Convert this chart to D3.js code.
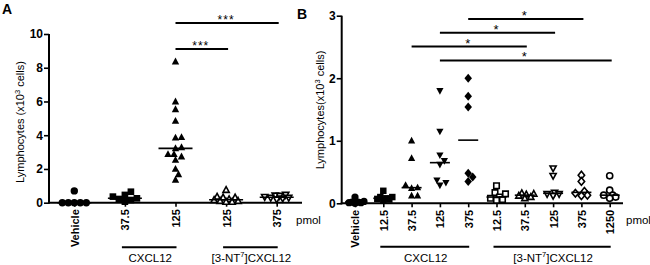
<!DOCTYPE html>
<html>
<head>
<meta charset="utf-8">
<script src="https://cdnjs.cloudflare.com/ajax/libs/d3/7.8.5/d3.min.js"></script>
<style>
body { margin: 0; background: #fff; }
svg { font-family: "Liberation Sans", Arial, sans-serif; }
</style>
</head>
<body>
<div id="chart"></div>
<script>
// ---- panel A data ----
var keysA = ["veh", "c37.5", "c125", "n125", "n375"];
var catsA = ["Vehicle", "37.5", "125", "125", "375"];
var vehicleA = [0.7, 0, 0, 0, 0, 0];
var cxcl37A = [0.65, 0.46, 0.36, 0.26, 0.22, 0.16, 0.06];
var cxcl125A = [8.36, 5.99, 5.53, 4.84, 3.88, 3.85, 3.28, 3.22, 2.87, 2.87, 2.73, 2.53, 2.0, 1.68, 1.35];
var nt125A = [0.75, 0.35, 0.3, 0.3, 0.2, 0.15, 0.1, 0.1, 0.05, 0.05];
var nt375A = [0.47, 0.43, 0.41, 0.35, 0.3, 0.3, 0.25, 0.2];
var ticksA = [0, 2, 4, 6, 8, 10];
var sigA = [["c125", "n375", "***"], ["c125", "n125", "***"]];
var groupsA = [["c37.5", "c125", "CXCL12"], ["n125", "n375", "NT"]];

// ---- panel B data ----
var keysB = ["veh", "c12.5", "c37.5", "c125", "c375", "n12.5", "n37.5", "n125", "n375", "n1250"];
var catsB = ["Vehicle", "12.5", "37.5", "125", "375", "12.5", "37.5", "125", "375", "1250"];
var vehicleB = [0.1, 0.03, 0.02, 0.02, 0.01, 0.01, 0];
var cxcl12B = [0.2, 0.1, 0.1, 0.08, 0.07, 0.06, 0.05];
var cxcl37B = [1.0, 0.72, 0.29, 0.25, 0.24, 0.12, 0.12];
var cxcl125B = [1.8, 1.15, 0.77, 0.68, 0.62, 0.37, 0.33, 0.29];
var cxcl375B = [2.0, 1.71, 1.54, 0.48, 0.42, 0.35];
var nt12B = [0.28, 0.17, 0.15, 0.1, 0.08, 0.06, 0.05];
var nt37B = [0.16, 0.15, 0.14, 0.12, 0.1, 0.08];
var nt125B = [0.56, 0.44, 0.17, 0.15, 0.15, 0.12];
var nt375B = [0.45, 0.35, 0.19, 0.16, 0.13, 0.12];
var nt1250B = [0.44, 0.21, 0.13, 0.13, 0.1, 0.08];
var ticksB = [0, 1, 2, 3];
var sigB = [["c375", "n375", "*"], ["c125", "n125", "*"], ["c37.5", "n37.5", "*"], ["c125", "n1250", "*"]];
var groupsB = [["c12.5", "c375", "CXCL12"], ["n12.5", "n1250", "NT"]];

function shapePath(type, r) {
    switch (type) {
        case "circle":
            return "M" + r + ",0A" + r + "," + r + " 0 1,1 " + (-r) + ",0A" + r + "," + r + " 0 1,1 " + r + ",0Z";
        case "square":
            var s = r * 0.9;
            return "M" + (-s) + "," + (-s) + "H" + s + "V" + s + "H" + (-s) + "Z";
        case "triangle":
            return "M0," + (-r * 1.1) + "L" + r + "," + (r * 0.75) + "L" + (-r) + "," + (r * 0.75) + "Z";
        case "triangleDown":
            return "M0," + (r * 1.1) + "L" + r + "," + (-r * 0.75) + "L" + (-r) + "," + (-r * 0.75) + "Z";
        case "diamond":
            return "M0," + (-r * 1.25) + "L" + (r * 1.05) + ",0L0," + (r * 1.25) + "L" + (-r * 1.05) + ",0Z";
    }
}

// simple beeswarm: push each point sideways until it clears the ones already placed,
// but never further than maxOff (then take the least crowded spot)
function swarm(vals, y, r, maxOff) {
    var placed = [];
    var out = [];
    var need = r * 1.6;
    var order = vals.map(function (v, i) { return i; })
        .sort(function (a, b) { return vals[a] - vals[b]; });
    order.forEach(function (i) {
        var py = y(vals[i]);
        var best = 0, bestD = -1, found = false;
        for (var k = 0; ; k++) {
            var off = (k % 2 ? 1 : -1) * Math.ceil(k / 2) * 1.5;
            if (Math.abs(off) > maxOff) break;
            var minD = Infinity;
            placed.forEach(function (p) {
                var dx = p[0] - off, dy = p[1] - py;
                minD = Math.min(minD, Math.sqrt(dx * dx + dy * dy));
            });
            if (minD >= need) { best = off; found = true; break; }
            if (minD > bestD) { bestD = minD; best = off; }
        }
        placed.push([best, py]);
        out[i] = { value: vals[i], dx: best, y: py };
    });
    return out;
}

function ntLabel(sel) {
    sel.append("tspan").text("[3-NT");
    sel.append("tspan").attr("dy", -5).attr("font-size", "7.5px").text("7");
    sel.append("tspan").attr("dy", 5).text("]CXCL12");
}

function drawPanel(svg, c) {
    var g = svg.append("g");

    var x = d3.scalePoint()
        .domain(c.keys)
        .range([c.left, c.right])
        .padding(c.padding);

    var y = d3.scaleLinear()
        .domain([0, c.yMax])
        .range([c.bottom, c.top]);

    // axes
    var yAxis = g.append("g")
        .attr("transform", "translate(" + c.left + ",0)")
        .call(d3.axisLeft(y).tickValues(c.ticks).tickFormat(d3.format("d"))
            .tickSize(5).tickSizeOuter(0).tickPadding(1));
    yAxis.selectAll("text")
        .attr("font-size", "12px").attr("font-weight", "bold").attr("fill", "#000");

    var xAxis = g.append("g")
        .attr("transform", "translate(0," + c.bottom + ")")
        .call(d3.axisBottom(x).tickSize(4).tickSizeOuter(0)
            .tickFormat(function (d, i) { return c.labels[i]; }));
    xAxis.selectAll("text")
        .attr("transform", "rotate(-90)")
        .attr("x", -6.5).attr("y", 0).attr("dy", "0.36em")
        .style("text-anchor", "end")
        .attr("font-size", "11px").attr("font-weight", "bold").attr("fill", "#000");

    g.selectAll(".tick text").attr("font-family", null);
    xAxis.attr("font-family", null);
    yAxis.attr("font-family", null);
    g.selectAll(".domain").attr("stroke", "#000").attr("stroke-width", 2);
    g.selectAll(".tick line").attr("stroke", "#000").attr("stroke-width", 1.6);
    // let the y axis reach the x axis line
    yAxis.select(".domain").attr("d", "M0," + c.top + "V" + (c.bottom + 1));
    xAxis.select(".domain").attr("d", "M" + (c.left - 1) + ",0H" + c.right);

    // points
    c.keys.forEach(function (k, gi) {
        var pts = swarm(c.values[gi], y, c.r, c.maxOff);
        var filled = k == "veh" || k.charAt(0) == "c";
        g.append("g").selectAll("path")
            .data(pts)
            .enter()
            .append("path")
            .attr("transform", function (d) { return "translate(" + (x(k) + d.dx) + "," + d.y + ")"; })
            .attr("d", shapePath(c.shapes[gi], filled ? c.r : c.r * 0.85))
            .attr("fill", filled ? "#000" : "#fff")
            .attr("stroke", "#000")
            .attr("stroke-width", filled ? 0 : 1.6);
    });

    // median lines
    g.append("g").selectAll("line")
        .data(c.keys)
        .enter()
        .append("line")
        .attr("x1", function (k) { return x(k) - c.medHalf; })
        .attr("x2", function (k) { return x(k) + c.medHalf; })
        .attr("y1", function (k, i) { return y(d3.median(c.values[i])); })
        .attr("y2", function (k, i) { return y(d3.median(c.values[i])); })
        .attr("stroke", "#000")
        .attr("stroke-width", 1.6);

    // significance bars
    var sig = g.append("g").selectAll("g")
        .data(c.sig)
        .enter()
        .append("g");
    sig.append("line")
        .attr("x1", function (d) { return x(d[0]); })
        .attr("x2", function (d) { return x(d[1]) + 2; })
        .attr("y1", function (d, i) { return c.sigTop + i * c.sigStep; })
        .attr("y2", function (d, i) { return c.sigTop + i * c.sigStep; })
        .attr("stroke", "#000")
        .attr("stroke-width", 2);
    sig.append("text")
        .attr("x", function (d) { return (x(d[0]) + x(d[1])) / 2; })
        .attr("y", function (d, i) { return c.sigTop + i * c.sigStep + c.starDy; })
        .attr("text-anchor", "middle")
        .attr("font-size", c.starSize + "px")
        .attr("letter-spacing", "1px")
        .text(function (d) { return d[2]; });

    // treatment group lines + labels
    var grp = g.append("g").selectAll("g")
        .data(c.groups)
        .enter()
        .append("g");
    grp.append("line")
        .attr("x1", function (d) { return x(d[0]) - 3; })
        .attr("x2", function (d) { return x(d[1]) + 1; })
        .attr("y1", c.groupY)
        .attr("y2", c.groupY)
        .attr("stroke", "#000")
        .attr("stroke-width", 2);
    grp.append("text")
        .attr("x", function (d) { return (x(d[0]) + x(d[1])) / 2; })
        .attr("y", c.groupY + 15)
        .attr("text-anchor", "middle")
        .attr("font-size", "11.5px")
        .each(function (d) {
            if (d[2] == "NT") ntLabel(d3.select(this));
            else d3.select(this).text(d[2]);
        });

    g.append("text")
        .attr("x", c.pmolX)
        .attr("y", 224)
        .attr("font-size", "11.5px")
        .text("pmol");

    // y label
    var yl = g.append("text")
        .attr("transform", "translate(" + c.ylabelX + "," + c.ylabelY + ") rotate(-90)")
        .attr("text-anchor", "middle")
        .attr("font-size", "11px");
    yl.append("tspan").text(c.ylabelText);
    yl.append("tspan").attr("dy", -4).attr("font-size", "7.5px").text("3");
    yl.append("tspan").attr("dy", 4).text(" cells)");

    g.append("text")
        .attr("x", c.letterX)
        .attr("y", c.letterY)
        .attr("font-size", "14px")
        .attr("font-weight", "bold")
        .text(c.letter);
}

function init() {
    var svg = d3.select("#chart")
        .append("svg")
        .attr("width", 650)
        .attr("height", 265);

    drawPanel(svg, {
        letter: "A", letterX: 2, letterY: 14,
        keys: keysA, labels: catsA,
        values: [vehicleA, cxcl37A, cxcl125A, nt125A, nt375A],
        shapes: ["circle", "square", "triangle", "triangle", "triangleDown"],
        left: 49, right: 302, top: 34, bottom: 202.7, padding: 0.5,
        yMax: 10, ticks: ticksA,
        r: 3.7, medHalf: 17, maxOff: 13,
        sig: sigA, sigTop: 23, sigStep: 26, starSize: 12, starDy: 1,
        groups: groupsA, groupY: 247.3, pmolX: 296,
        ylabelText: "Lymphocytes (x10", ylabelX: 24, ylabelY: 122
    });

    drawPanel(svg, {
        letter: "B", letterX: 297, letterY: 19,
        keys: keysB, labels: catsB,
        values: [vehicleB, cxcl12B, cxcl37B, cxcl125B, cxcl375B, nt12B, nt37B, nt125B, nt375B, nt1250B],
        shapes: ["circle", "square", "triangle", "triangleDown", "diamond",
                 "square", "triangle", "triangleDown", "diamond", "circle"],
        left: 341.7, right: 623, top: 15.7, bottom: 203.3, padding: 0.47,
        yMax: 3, ticks: ticksB,
        r: 3.6, medHalf: 10, maxOff: 9,
        sig: sigB, sigTop: 19, sigStep: 13.8, starSize: 13, starDy: 1,
        groups: groupsB, groupY: 246.7, pmolX: 626,
        ylabelText: "Lymphocytes(x10", ylabelX: 324, ylabelY: 110
    });
}

init();
</script>
</body>
</html>
